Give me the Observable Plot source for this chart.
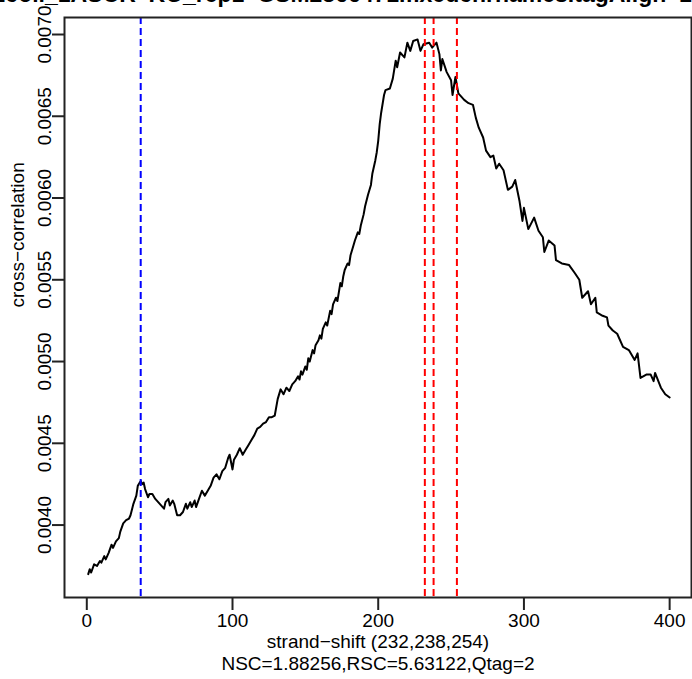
<!DOCTYPE html>
<html>
<head>
<meta charset="utf-8">
<script src="https://cdn.jsdelivr.net/npm/d3@7"></script>
<script src="https://cdn.jsdelivr.net/npm/@observablehq/plot@0.6"></script>
<style>
  html, body { margin: 0; padding: 0; background: #fff; }
  #chart svg { display: block; }
</style>
</head>
<body>
<div id="chart"></div>
<script>
// Strand cross-correlation profile (phantompeakqualtools style)
const plotTitle = "Ecoli_1ASCR  KO_rep1  GSM2366471.fixedchrnames.tagAlign  127  chr";
const xTitle = "strand\u2212shift (232,238,254)";
const subTitle = "NSC=1.88256,RSC=5.63122,Qtag=2";
const yTitle = "cross\u2212correlation";

const xTicks = [0, 100, 200, 300, 400];
const yTicks = [0.0040, 0.0045, 0.0050, 0.0055, 0.0060, 0.0065, 0.0070];

// phantom (read-length) peak and fragment-length estimates
const phantomPeak = [37];
const fragmentShifts = [232, 238, 254];

const shift = [
  1,2,3,5,7,9,10,12,13,15,17,18,20,22,23,25,27,29,30,32,
  34,35,37,38,39,40,42,43,45,47,49,51,53,54,56,57,59,60,62,64,
  66,68,69,71,72,74,75,77,79,81,83,85,87,89,91,93,95,97,98,100,
  101,103,105,107,109,111,113,115,117,119,121,123,125,127,129,131,133,135,137,139,
  141,143,
  145,146,147,148,150,151,152,153,155,156,157,159,160,161,162,164,165,167,168,169,
  171,172,174,175,176,177,179,180,181,183,184,186,187,188,190,191,193,195,196,198,
  199,200,201,202,
  204,205,208,210,212,213,215,218,220,222,224,227,229,231,235,237,240,242,243,244,
  247,250,251,253,255,259,262,265,267,269,272,
  274,277,279,281,283,286,289,292,294,297,299,300,303,307,310,313,314,317,321,322,
  326,331,335,338,340,344,346,349,350,354,357,358,361,364,368,372,376,378,380,384,
  387,389,390,394,397,400
];

const crossCorrelation = [
  0.00370,0.00373,0.00371,0.00376,0.00375,0.00378,0.00377,0.00381,0.00379,0.00383,
  0.00388,0.00386,0.00390,0.00392,0.00396,0.00401,0.00403,0.00404,0.00406,0.00413,
  0.00418,0.00424,0.00427,0.00425,0.00426,0.00422,0.00417,0.00419,0.00419,0.00416,
  0.00414,0.00412,0.00410,0.00414,0.00416,0.00412,0.00415,0.00413,0.00406,0.00406,
  0.00408,0.00413,0.00410,0.00414,0.00411,0.00415,0.00411,0.00416,0.00421,0.00418,
  0.00421,0.00424,0.00429,0.00431,0.00428,0.00433,0.00435,0.00441,0.00443,0.00434,
  0.00440,0.00443,0.00447,0.00443,0.00446,0.00449,0.00452,0.00455,0.00459,0.00460,
  0.00462,0.00463,0.00466,0.00466,0.00467,0.00477,0.00483,0.00480,0.00484,0.00482,
  0.00486,0.00488,
  0.00491,0.00489,0.00494,0.00492,0.00497,0.00495,0.00502,0.00500,0.00507,0.00505,
  0.00510,0.00513,0.00516,0.00514,0.00520,0.00524,0.00522,0.00531,0.00529,0.00535,
  0.00539,0.00537,0.00548,0.00546,0.00552,0.00556,0.00560,0.00559,0.00565,0.00571,
  0.00574,0.00579,0.00578,0.00583,0.00590,0.00595,0.00602,0.00608,0.00615,0.00623,
  0.00628,0.00635,0.00645,0.00652,
  0.00663,0.00666,0.00667,0.00673,0.00684,0.00680,0.00689,0.00686,0.00695,0.00690,
  0.00696,0.00697,0.00690,0.00694,0.00695,0.00692,0.00695,0.00688,0.00678,0.00685,
  0.00677,0.00672,0.00663,0.00674,0.00664,0.00660,0.00658,0.00657,0.00649,0.00643,
  0.00637,
  0.00629,0.00625,0.00626,0.00618,0.00621,0.00617,0.00605,0.00607,0.00611,0.00598,
  0.00586,0.00594,0.00581,0.00588,0.00580,0.00576,0.00567,0.00574,0.00571,0.00562,
  0.00560,0.00559,0.00554,0.00550,0.00539,0.00543,0.00535,0.00539,0.00530,0.00528,
  0.00527,0.00522,0.00519,0.00517,0.00509,0.00507,0.00501,0.00505,0.00490,0.00492,
  0.00492,0.00488,0.00493,0.00484,0.00480,0.00478
];

const profile = shift.map((s, i) => ({shift: s, cc: crossCorrelation[i]}));

const font = "'Liberation Sans', Arial, Helvetica, sans-serif";

const chart = Plot.plot({
  width: 692,
  height: 679,
  marginLeft: 64,
  marginRight: 1,
  marginTop: 17,
  marginBottom: 82,
  style: {fontFamily: font, background: "#fff", color: "#000", overflow: "visible"},
  x: {domain: [-15.3, 415]},
  y: {domain: [0.003557, 0.007104]},
  marks: [
    Plot.line(profile, {x: "shift", y: "cc", stroke: "#000", strokeWidth: 2}),
    Plot.ruleX(phantomPeak, {stroke: "#0000ff", strokeWidth: 2, strokeDasharray: "7,4"}),
    Plot.ruleX(fragmentShifts, {stroke: "#ff0000", strokeWidth: 2, strokeDasharray: "7,4"}),
    Plot.frame({stroke: "#222", strokeWidth: 2}),
    Plot.axisX({ticks: xTicks, tickSize: 13, tickPadding: 3, tickFormat: d => String(d),
      fontSize: 19, label: null, strokeWidth: 2, stroke: "#222"}),
    Plot.axisY({ticks: yTicks, tickSize: 12, tickPadding: 2, tickRotate: -90,
      tickFormat: d3.format(".4f"), fontSize: 19, label: null, strokeWidth: 2, stroke: "#222"}),
    Plot.text([xTitle], {frameAnchor: "bottom", dy: 44, lineAnchor: "middle", fontSize: 19, fill: "#000"}),
    Plot.text([subTitle], {frameAnchor: "bottom", dy: 66, lineAnchor: "middle", fontSize: 19, fill: "#000"}),
    Plot.text([yTitle], {frameAnchor: "left", dx: -47, rotate: -90, lineAnchor: "middle", fontSize: 19, fill: "#000"}),
    Plot.text([plotTitle], {frameAnchor: "top", dy: -16, lineAnchor: "bottom", fontSize: 23, fontWeight: "bold", fill: "#000"})
  ]
});

document.getElementById("chart").appendChild(chart);
</script>
</body>
</html>
